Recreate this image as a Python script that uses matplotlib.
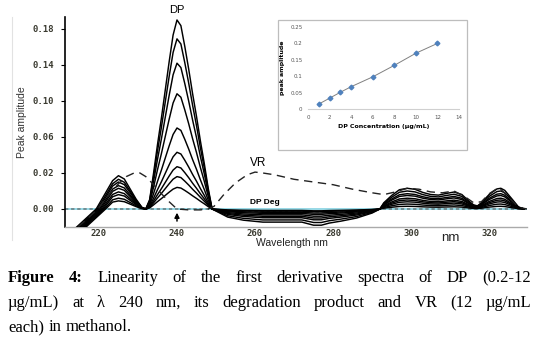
import numpy as np
import matplotlib
matplotlib.use("Agg")
import matplotlib.pyplot as plt
from matplotlib.patches import Rectangle
from matplotlib.lines import Line2D

# ---------------- data ----------------
# DP spectra (first derivative), 9 concentrations; amplitudes in axis units
dp_conc = [12, 10, 8, 6, 4, 3, 2, 1, 0.2]
main_peak = [0.210, 0.189, 0.162, 0.128, 0.090, 0.063, 0.047, 0.036, 0.024]
left_peak = [0.037, 0.033, 0.030, 0.026, 0.023, 0.019, 0.016, 0.012, 0.009]
left_cross = [219.3, 219.6, 219.9, 220.2, 220.5, 220.8, 221.1, 221.4, 221.7]
neg_depth = [0.018, 0.015, 0.012, 0.010, 0.008, 0.006, 0.0045, 0.003, 0.002]
bump_peak = [0.023, 0.020, 0.017, 0.015, 0.012, 0.010, 0.008, 0.0055, 0.003]

# profile shapes (normalised)
left_lam = [223.5, 225, 226.5, 228, 229.5, 231, 232]
left_shape = [0.85, 1.0, 0.9, 0.6, 0.3, 0.05, 0.0]
main_lam = [233, 234, 235, 236, 237, 238, 239, 240, 241, 242, 243, 244, 245, 246, 247, 248, 249]
main_shape = [0.05, 0.19, 0.34, 0.48, 0.63, 0.78, 0.92, 1.0, 0.97, 0.86, 0.74, 0.61, 0.49, 0.36, 0.24, 0.11, 0.0]
neg_lam = [251, 253, 257, 262, 268, 272, 275, 277, 279, 282, 286, 290, 292]
neg_shape = [0.25, 0.5, 0.69, 0.81, 0.81, 0.81, 1.0, 1.0, 0.87, 0.75, 0.56, 0.25, 0.0]
bump_lam = [293, 295, 297, 299, 301, 303, 305, 307, 309, 311, 313, 315, 316, 317, 318, 320, 322, 323, 324, 326, 327.5, 329]
bump_shape = [0.3, 0.65, 0.93, 1.0, 0.95, 0.8, 0.7, 0.67, 0.75, 0.82, 0.7, 0.35, 0.2, 0.15, 0.3, 0.7, 0.97, 1.0, 0.9, 0.45, 0.1, 0.0]

# VR (12 ug/mL) spectrum
vr_lam = [211.3, 214.6, 217, 219.7, 222, 225, 227, 229, 230.5, 232, 234, 236, 238, 240, 243, 246, 248,
          249.5, 252, 255, 258, 260, 262, 265, 270, 275, 280, 285, 290, 293, 296, 299, 302, 305, 308,
          311, 314, 316, 318, 320, 322.5, 325, 327.5, 329.7]
vr_amp = [-0.024, -0.020, -0.011, 0, 0.013, 0.028, 0.036, 0.040, 0.040, 0.036, 0.027, 0.017, 0.008, 0,
          -0.001, -0.001, 0, 0.003, 0.016, 0.029, 0.038, 0.041, 0.040, 0.038, 0.033, 0.030, 0.027, 0.022,
          0.018, 0.016, 0.019, 0.023, 0.022, 0.019, 0.018, 0.020, 0.013, 0.007, 0.008, 0.017, 0.024,
          0.013, 0.002, 0.0]

# DP degradation product
deg_lam = [211.3, 240, 249, 255, 265, 275, 280, 292, 329.7]
deg_amp = [0, 0, 0, -0.002, -0.003, -0.003, -0.004, 0, 0]

# axis tick labels (labels as printed, evenly spaced)
ytick_pos = [0.0, 0.04, 0.08, 0.12, 0.16, 0.20]
ytick_lab = ["0.00", "0.02", "0.06", "0.10", "0.14", "0.18"]
xtick_pos = [220, 240, 260, 280, 300, 320]

# inset calibration
cal_conc = [1, 2, 3, 4, 6, 8, 10, 12]
cal_amp = [0.015, 0.033, 0.051, 0.068, 0.098, 0.133, 0.170, 0.200]

# ---------------- figure ----------------
W, H = 541, 337
fig = plt.figure(figsize=(W / 100, H / 100), dpi=100)
fig.patch.set_facecolor("white")

def fbox(x0, y0, x1, y1):
    return [x0 / W, 1 - y1 / H, (x1 - x0) / W, (y1 - y0) / H]

ax = fig.add_axes(fbox(65, 17, 527, 227))
ax.set_xlim(211.3, 329.7)
ax.set_ylim(-0.02, 0.2133)

# baseline
ax.axhline(0, color="#8fd6e4", lw=1.3, zorder=1)
ax.plot(deg_lam, deg_amp, color="#555555", lw=0.8, dashes=(3, 2.5), zorder=2)

for i in range(len(dp_conc)):
    c = left_cross[i]
    lam = [c - 5.5, c] + left_lam + main_lam + neg_lam + bump_lam
    y = ([-0.022, 0.0]
         + [left_peak[i] * s for s in left_shape]
         + [main_peak[i] * s for s in main_shape]
         + [-neg_depth[i] * s for s in neg_shape]
         + [bump_peak[i] * s for s in bump_shape])
    ax.plot(lam, y, color="black", lw=1.05, zorder=3, solid_joinstyle="round")

ax.plot(vr_lam, vr_amp, color="#222222", lw=1.0, dashes=(6, 4), zorder=3)

# spines / ticks
for s in ["top", "right"]:
    ax.spines[s].set_visible(False)
ax.spines["left"].set_color("black")
ax.spines["left"].set_linewidth(1.2)
ax.spines["bottom"].set_color("#aaaaaa")
ax.spines["bottom"].set_linewidth(1.0)
ax.set_yticks(ytick_pos)
ax.set_yticklabels(ytick_lab)
ax.set_xticks(xtick_pos)
ax.set_xticklabels([str(v) for v in xtick_pos])
ax.tick_params(axis="y", length=3, width=0.8, pad=5, direction="out")
ax.tick_params(axis="x", length=0, pad=1.5)
for lab in ax.get_yticklabels() + ax.get_xticklabels():
    lab.set_fontfamily("DejaVu Sans Mono")
    lab.set_fontweight("bold")
    lab.set_fontsize(6.5)
    lab.set_color("#3a3a30")

ax.set_ylabel("Peak amplitude", fontsize=7.5, family="Liberation Sans", color="#333333")
ax.yaxis.set_label_coords(-0.082, 0.5)

ax.text(240, 0.221, "DP", ha="center", va="center", fontsize=8, family="Liberation Sans", clip_on=False)
ax.text(260.8, 0.051, "VR", ha="center", va="center", fontsize=8.5, family="Liberation Sans")
ax.text(262.6, 0.0072, "DP Deg", ha="center", va="center", fontsize=6, family="Liberation Sans",
        fontweight="bold")
ax.annotate("", xy=(240, -0.001), xytext=(240, -0.0165),
            arrowprops=dict(arrowstyle="-|>", color="black", lw=1.1, mutation_scale=7))
fig.text(292 / W, 1 - 243 / H, "Wavelength nm", ha="center", va="center", fontsize=7.5,
         family="Liberation Sans", color="#222222")
fig.text(450 / W, 1 - 238 / H, "nm", ha="center", va="center", fontsize=9.5,
         family="Liberation Sans", color="#222222")

# faint frame line at left
fig.add_artist(Line2D([12 / W, 12 / W], [1 - 17 / H, 1 - 240 / H], color="#e2e2e2", lw=0.8))

# ---------------- inset ----------------
fig.add_artist(Rectangle((278 / W, 1 - 150 / H), (467 - 278) / W, (150 - 20) / H,
                         transform=fig.transFigure, facecolor="white", edgecolor="#bdbdbd",
                         lw=0.9, zorder=5))
iax = fig.add_axes(fbox(308, 27, 459, 109), zorder=6)
iax.patch.set_alpha(0)
iax.set_xlim(0, 14)
iax.set_ylim(0, 0.25)
iax.plot(cal_conc, cal_amp, color="#808080", lw=0.7, zorder=2)
iax.plot(cal_conc, cal_amp, ls="none", marker="D", ms=2.4, color="#4f81bd", zorder=3)
for s in ["top", "right", "left"]:
    iax.spines[s].set_visible(False)
iax.spines["bottom"].set_color("#d0d0d0")
iax.spines["bottom"].set_linewidth(0.8)
iax.set_xticks([0, 2, 4, 6, 8, 10, 12, 14])
iax.set_yticks([0, 0.05, 0.1, 0.15, 0.2, 0.25])
iax.set_yticklabels(["0", "0.05", "0.1", "0.15", "0.2", "0.25"])
iax.tick_params(length=0, labelsize=4, labelcolor="#555555", pad=4)
iax.set_ylabel("peak amplitude", fontsize=4.5, fontweight="bold", labelpad=4)
iax.set_xlabel("DP Concentration (\u00b5g/mL)", fontsize=4.5, fontweight="bold", labelpad=3)

# ---------------- caption ----------------
fig.canvas.draw()
renderer = fig.canvas.get_renderer()
cap_font = "Liberation Serif"
cap_size = 12

def justify(words, bold_n, ypx, x0=8, x1=531, justify_it=True):
    texts = []
    for k, w in enumerate(words):
        t = fig.text(0, 1 - ypx / H, w, fontsize=cap_size, family=cap_font,
                     fontweight="bold" if k < bold_n else "normal", va="baseline", ha="left")
        texts.append(t)
    widths = [t.get_window_extent(renderer).width for t in texts]
    if justify_it and len(words) > 1:
        gap = (x1 - x0 - sum(widths)) / (len(words) - 1)
    else:
        gap = 4.2
    x = x0
    for t, wd in zip(texts, widths):
        t.set_x(x / W)
        x += wd + gap

justify(["Figure", "4:", "Linearity", "of", "the", "first", "derivative", "spectra", "of", "DP", "(0.2-12"],
        2, 282)
justify(["\u00b5g/mL)", "at", "\u03bb", "240", "nm,", "its", "degradation", "product", "and", "VR", "(12",
         "\u00b5g/mL"], 0, 307)
justify(["each)", "in", "methanol."], 0, 331, justify_it=False)

fig.savefig("out.png", dpi=100)
